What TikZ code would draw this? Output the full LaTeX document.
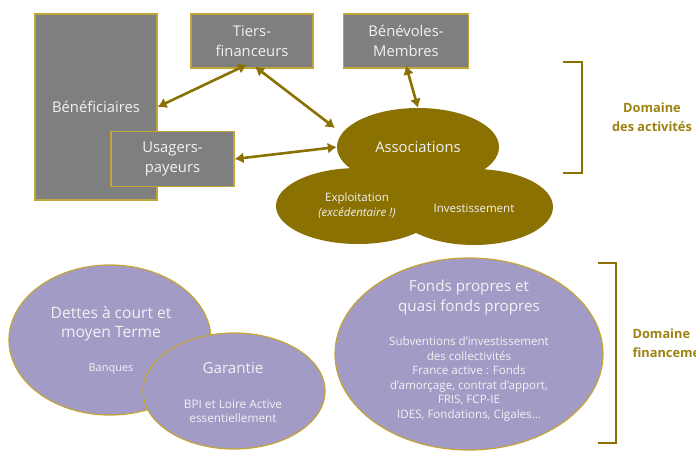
\documentclass[tikz,border=0pt]{standalone}
\usepackage{fontspec}
\setmainfont{Open Sans}
\usetikzlibrary{shapes.geometric,arrows.meta}
\definecolor{boxgray}{HTML}{7F7F7F}
\definecolor{gold}{HTML}{C2A537}
\definecolor{olive}{HTML}{8A7102}
\definecolor{lilac}{HTML}{A29BC6}
\definecolor{lighttxt}{HTML}{F2F2F2}
\definecolor{domtxt}{HTML}{9C8210}
\tikzset{
  graybox/.style={rectangle, draw=gold, line width=1.2pt, fill=boxgray, inner sep=0pt,
    text=lighttxt, align=center, font=\fontsize{14.8}{20.5}\selectfont},
  oliveell/.style={ellipse, fill=olive, inner sep=0pt, text=lighttxt, align=center},
  lilacell/.style={ellipse, fill=lilac, draw=gold, line width=1.2pt, inner sep=0pt},
  lilactxt/.style={text=lighttxt, align=center},
  biarrow/.style={draw=olive, line width=2.6pt, {Latex[length=9pt,width=11pt]}-{Latex[length=9pt,width=11pt]}},
  bracketline/.style={draw=olive, line width=2pt},
  domlabel/.style={text=domtxt, align=center, font=\bfseries\fontsize{12.8}{18.5}\selectfont}
}
\begin{document}
\begin{tikzpicture}[x=1pt,y=-1pt]
\useasboundingbox (0,0) rectangle (696,450);
% top boxes
\node[graybox, minimum width=122pt, minimum height=186pt] (benef) at (96,107) {Bénéficiaires};
\node[graybox, minimum width=122pt, minimum height=54pt] (tiers) at (252,41) {Tiers-\\financeurs};
\node[graybox, minimum width=125pt, minimum height=54pt] (benev) at (406,41) {Bénévoles-\\Membres};
\node[graybox, minimum width=123pt, minimum height=55pt] (usagers) at (172.5,159) {Usagers-\\payeurs};
% olive ellipses
\node[oliveell, minimum width=164pt, minimum height=76pt] (exploit) at (358,206) {};
\node[oliveell, minimum width=158pt, minimum height=76pt] (invest) at (474,207) {};
\node[oliveell, minimum width=162pt, minimum height=78pt, font=\fontsize{14.8}{20}\selectfont] (assoc) at (418,147) {Associations};
\node[text=lighttxt, align=center, font=\fontsize{11.5}{15}\selectfont] (exploittxt) at (357,206) {Exploitation\\\itshape (excédentaire !)};
\node[text=lighttxt, font=\fontsize{11.5}{15}\selectfont] (investtxt) at (474,208) {Investissement};
% arrows
\draw[biarrow] (benef.east) -- ([xshift=-5pt,yshift=4pt]tiers.south);
\draw[biarrow] ([xshift=3pt,yshift=2pt]tiers.south) -- ([xshift=-12pt]assoc.165);
\draw[biarrow] (usagers.east) -- (assoc.west);
\draw[biarrow] ([yshift=3pt]benev.south) -- (assoc.north);
% top bracket
\coordinate (b1) at (563,62);
\coordinate (b2) at (582,62);
\coordinate (b3) at (582,173);
\coordinate (b4) at (563,173);
\draw[bracketline] (b1) -- (b2) -- (b3) -- (b4);
\node[domlabel] (dom1) at (652,117) {Domaine\\des activités};
% bottom ellipses
\node[lilacell, minimum width=202pt, minimum height=150pt] (dettes) at (110,340) {};
\node[lilacell, minimum width=182pt, minimum height=116pt] (garantie) at (234,391) {};
\node[lilacell, minimum width=268pt, minimum height=192pt] (fonds) at (469,354) {};
\node[lilactxt, font=\fontsize{15.6}{19}\selectfont] (dettestxt) at (111,324) {Dettes à court et\\moyen Terme};
\node[lilactxt, font=\fontsize{11}{14}\selectfont] (banques) at (111,369) {Banques};
\node[lilactxt, font=\fontsize{15.2}{19}\selectfont] (garantietxt) at (233,368) {Garantie};
\node[lilactxt, font=\fontsize{11.8}{14}\selectfont] (bpi) at (233,411) {BPI et Loire Active\\essentiellement};
\node[lilactxt, font=\fontsize{15.2}{20}\selectfont] (fondstxt) at (469,298) {Fonds propres et\\quasi fonds propres};
\node[lilactxt, font=\fontsize{11.6}{14.6}\selectfont] (fondslist) at (469,379) {Subventions d’investissement\\des collectivités\\France active : Fonds\\d’amorçage, contrat d’apport,\\FRIS, FCP-IE\\IDES, Fondations, Cigales…};
% bottom bracket
\coordinate (c1) at (598,263);
\coordinate (c2) at (616,263);
\coordinate (c3) at (616,443);
\coordinate (c4) at (598,443);
\draw[bracketline] (c1) -- (c2) -- (c3) -- (c4);
\node[domlabel, anchor=west, align=left] (dom2) at (629,343) {Domaine\\financement};
\end{tikzpicture}
\end{document}
